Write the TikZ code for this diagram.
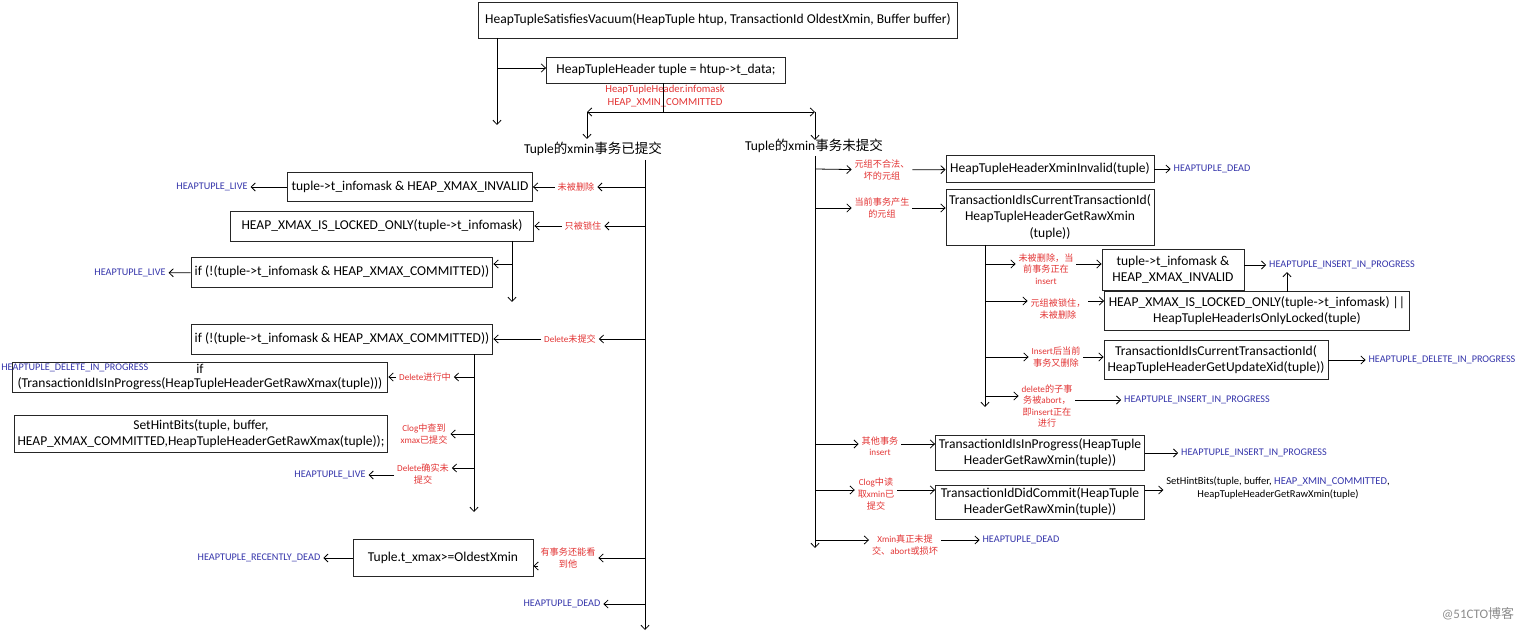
\documentclass[tikz,border=0pt]{standalone}
\usepackage{fontspec}
\setmainfont{Carlito}
\newfontfamily\cjk{Noto Sans CJK SC}
\newcommand{\hanzi}[1]{{\cjk #1}}
\usetikzlibrary{arrows.meta}
\definecolor{condred}{RGB}{226,52,52}
\definecolor{resblue}{RGB}{52,52,170}

\begin{document}
\begin{tikzpicture}[x=0.02cm,y=-0.02cm,>={Straight Barb[length=2.4pt,width=4.6pt]},line width=0.45pt,
  box/.style={draw=black!85,line width=0.55pt,align=center,inner sep=1pt,font=\fontsize{7.7}{9.2}\selectfont},
  plain/.style={inner sep=1pt,font=\fontsize{7.7}{9}\selectfont},
  cond/.style={text=condred,align=center,inner sep=1.5pt,font=\fontsize{5.2}{6.6}\selectfont},
  result/.style={text=resblue,inner sep=1.5pt,font=\fontsize{5.8}{7}\selectfont}]
  \useasboundingbox (0,0) rectangle (1520,631);

  \node[box, minimum width=9.6cm, minimum height=0.72cm] (vacuum) at (718,20) {HeapTupleSatisfiesVacuum(HeapTuple htup, TransactionId OldestXmin, Buffer buffer)};
  \node[box, minimum width=4.78cm, minimum height=0.52cm] (tupleheader) at (666,70) {HeapTupleHeader tuple = htup->t\_data;};
  \node[cond, font=\fontsize{6.1}{7.4}\selectfont] (infomask) at (665,96) {HeapTupleHeader.infomask\\HEAP\_XMIN\_COMMITTED};
  \node[plain] (xmincommitted)   at (593,149) {Tuple\hanzi{的}xmin\hanzi{事务已提交}};
  \node[plain] (xminuncommitted) at (814,146) {Tuple\hanzi{的}xmin\hanzi{事务未提交}};

  \coordinate (trunk)    at (497,38);
  \coordinate (trunkhdr) at (497,68);
  \coordinate (trunkend) at (497,125);
  \coordinate (hdrout)   at (663,83);
  \coordinate (fork)     at (663,112);
  \coordinate (lfork)    at (587,112);
  \coordinate (rfork)    at (815,112);
  \coordinate (lhead)    at (587,139);
  \coordinate (rhead)    at (815,140);

  \path[->]
  (trunk) edge (trunkend)
  (trunkhdr) edge (trunkhdr -| tupleheader.west)
  (lfork) edge (lhead)
  (rfork) edge (rhead);
  \draw (hdrout) -- (fork);
  \draw[<->] (lfork) -- (rfork);

  % xmin committed
  \node[box, minimum width=4.9cm, minimum height=0.58cm]  (xmaxinvalid) at (410,187) {tuple->t\_infomask \& HEAP\_XMAX\_INVALID};
  \node[cond] (notdeleted) at (576,187) {\hanzi{未被删除}};
  \node[result] (liveA) at (212,187) {HEAPTUPLE\_LIVE};
  \node[box, minimum width=6.08cm, minimum height=0.6cm] (lockedonly) at (382,226) {HEAP\_XMAX\_IS\_LOCKED\_ONLY(tuple->t\_infomask)};
  \node[cond] (onlylocked) at (583,226) {\hanzi{只被锁住}};
  \node[box, minimum width=6.04cm, minimum height=0.6cm] (xmaxcommitA) at (342,272) {if (!(tuple->t\_infomask \& HEAP\_XMAX\_COMMITTED))};
  \node[result] (liveB) at (130,273) {HEAPTUPLE\_LIVE};
  \node[box, minimum width=6.04cm, minimum height=0.6cm] (xmaxcommitB) at (342,339) {if (!(tuple->t\_infomask \& HEAP\_XMAX\_COMMITTED))};
  \node[cond] (delnotcommit) at (570,339) {Delete\hanzi{未提交}};
  \node[box, minimum width=7.52cm, minimum height=0.6cm, font=\fontsize{7.7}{8}\selectfont] (inprogressxmax) at (200,377) {if\\(TransactionIdIsInProgress(HeapTupleHeaderGetRawXmax(tuple)))};
  \node[result, anchor=west, inner sep=0pt] (delprogA) at (1,368) {HEAPTUPLE\_DELETE\_IN\_PROGRESS};
  \node[cond] (deleting) at (425,377) {Delete\hanzi{进行中}};
  \node[box, minimum width=7.48cm, minimum height=0.74cm] (sethintA) at (201,434) {SetHintBits(tuple, buffer,\\HEAP\_XMAX\_COMMITTED,HeapTupleHeaderGetRawXmax(tuple));};
  \node[cond] (clogfound) at (424,434) {Clog\hanzi{中查到}\\xmax\hanzi{已提交}};
  \node[cond] (deltrue) at (423,474) {Delete\hanzi{确实未}\\\hanzi{提交}};
  \node[result] (liveC) at (330,475) {HEAPTUPLE\_LIVE};
  \node[box, minimum width=3.6cm, minimum height=0.74cm] (recentdead) at (443,558) {Tuple.t\_xmax>=OldestXmin};
  \node[cond] (visible) at (568,558) {\hanzi{有事务还能看}\\\hanzi{到他}};
  \node[result] (recentlydead) at (259,558) {HEAPTUPLE\_RECENTLY\_DEAD};
  \node[result] (deadA) at (562,604) {HEAPTUPLE\_DEAD};

  \coordinate (ltop) at (645,160);
  \coordinate (lend) at (645,630);
  \coordinate (l1) at (645,187);
  \coordinate (l2) at (645,226);
  \coordinate (l3) at (645,339);
  \coordinate (l4) at (645,558);
  \coordinate (l5) at (645,604);
  \coordinate (k0) at (512,241);
  \coordinate (k1) at (512,264);
  \coordinate (kend) at (512,302);
  \coordinate (m0) at (474,354);
  \coordinate (m1) at (474,377);
  \coordinate (m2) at (474,434);
  \coordinate (m3) at (474,468);
  \coordinate (mend) at (474,512);

  \path[->]
  (ltop) edge (lend)
  (l1) edge (notdeleted)
  (notdeleted) edge (xmaxinvalid)
  (xmaxinvalid) edge (liveA)
  (l2) edge (onlylocked)
  (onlylocked) edge (lockedonly)
  (k0) edge (kend)
  (k1) edge (k1 -| xmaxcommitA.east)
  (xmaxcommitA) edge (liveB)
  (l3) edge (delnotcommit)
  (delnotcommit) edge (xmaxcommitB)
  (m0) edge (mend)
  (m1) edge (deleting)
  (deleting) edge (inprogressxmax)
  (m2) edge (clogfound)
  (m3) edge (m3 -| deltrue.east)
  (deltrue.west |- liveC) edge (liveC)
  (l4) edge (visible)
  (visible.west |- 0,566) edge (recentdead.east |- 0,566)
  (recentdead) edge (recentlydead)
  (l5) edge (deadA);

  % xmin not committed
  \node[cond] (badtuple) at (882,170) {\hanzi{元组不合法、}\\\hanzi{坏的元组}};
  \node[box, minimum width=4.16cm, minimum height=0.54cm] (xmininvalid) at (1050,169) {HeapTupleHeaderXminInvalid(tuple)};
  \node[result] (deadB) at (1212,169) {HEAPTUPLE\_DEAD};
  \node[cond] (owntuple) at (882,208) {\hanzi{当前事务产生}\\\hanzi{的元组}};
  \node[box, minimum width=4.16cm, minimum height=1.12cm] (curxact) at (1050,217) {TransactionIdIsCurrentTransactionId(\\HeapTupleHeaderGetRawXmin\\(tuple))};
  \node[cond] (curinsert) at (1046,269) {\hanzi{未被删除，当}\\\hanzi{前事务正在}\\insert};
  \node[box, minimum width=2.84cm, minimum height=0.82cm] (xmaxinvalidB) at (1173,270) {tuple->t\_infomask \&\\HEAP\_XMAX\_INVALID};
  \node[result] (insprogA) at (1342,265) {HEAPTUPLE\_INSERT\_IN\_PROGRESS};
  \node[cond] (lockednotdel) at (1058,309) {\hanzi{元组被锁住，}\\\hanzi{未被删除}};
  \node[box, minimum width=6.1cm, minimum height=0.78cm] (lockedonlyB) at (1257,311) {HEAP\_XMAX\_IS\_LOCKED\_ONLY(tuple->t\_infomask) ||\\HeapTupleHeaderIsOnlyLocked(tuple)};
  \node[cond] (insdel) at (1056,357) {Insert\hanzi{后当前}\\\hanzi{事务又删除}};
  \node[box, minimum width=4.48cm, minimum height=0.78cm] (curupdate) at (1216,360) {TransactionIdIsCurrentTransactionId(\\HeapTupleHeaderGetUpdateXid(tuple))};
  \node[result] (delprogB) at (1442,360) {HEAPTUPLE\_DELETE\_IN\_PROGRESS};
  \node[cond] (subabort) at (1047,406) {delete\hanzi{的子事}\\\hanzi{务被}abort\hanzi{，}\\\hanzi{即}insert\hanzi{正在}\\\hanzi{进行}};
  \node[result] (insprogB) at (1197,400) {HEAPTUPLE\_INSERT\_IN\_PROGRESS};
  \node[cond] (otherins) at (880,446) {\hanzi{其他事务}\\insert};
  \node[box, minimum width=4.18cm, minimum height=0.7cm] (inprogressxmin) at (1040,453) {TransactionIdIsInProgress(HeapTuple\\HeaderGetRawXmin(tuple))};
  \node[result] (insprogC) at (1254,453) {HEAPTUPLE\_INSERT\_IN\_PROGRESS};
  \node[cond] (clogread) at (876,494) {Clog\hanzi{中读}\\\hanzi{取}xmin\hanzi{已}\\\hanzi{提交}};
  \node[box, minimum width=4.18cm, minimum height=0.68cm] (didcommit) at (1040,502) {TransactionIdDidCommit(HeapTuple\\HeaderGetRawXmin(tuple))};
  \node[inner sep=1.5pt, align=center, font=\fontsize{6}{7.2}\selectfont] (sethintB) at (1278,488) {SetHintBits(tuple, buffer, \textcolor{resblue}{HEAP\_XMIN\_COMMITTED},\\HeapTupleHeaderGetRawXmin(tuple)};
  \node[cond] (xminabort) at (905,545) {Xmin\hanzi{真正未提}\\\hanzi{交、}abort\hanzi{或损坏}};
  \node[result] (deadC) at (1021,540) {HEAPTUPLE\_DEAD};

  \coordinate (rtop) at (815,156);
  \coordinate (rend) at (815,548);
  \coordinate (r1) at (815,169);
  \coordinate (r2) at (815,208);
  \coordinate (r3) at (815,444);
  \coordinate (r4) at (815,490);
  \coordinate (r5) at (815,540);
  \coordinate (s0) at (985,245);
  \coordinate (s1) at (985,264);
  \coordinate (s2) at (985,301);
  \coordinate (s3) at (985,357);
  \coordinate (s4) at (985,396);
  \coordinate (send) at (985,407);
  \coordinate (lockup) at (1287,292);

  \path[->]
  (rtop) edge (rend)
  (r1) edge (badtuple)
  (badtuple) edge (xmininvalid)
  (xmininvalid) edge (deadB)
  (r2) edge (owntuple)
  (owntuple) edge (owntuple -| curxact.west)
  (s0) edge (send)
  (s1) edge (s1 -| curinsert.west)
  (curinsert.east |- s1) edge (s1 -| xmaxinvalidB.west)
  (xmaxinvalidB.east |- insprogA) edge (insprogA)
  (s2) edge (s2 -| lockednotdel.west)
  (lockednotdel.east |- s2) edge (s2 -| lockedonlyB.west)
  (lockup) edge (lockup |- insprogA.south)
  (s3) edge (insdel)
  (insdel) edge (insdel -| curupdate.west)
  (curupdate.east |- delprogB) edge (delprogB)
  (s4) edge (s4 -| subabort.west)
  (subabort.east |- insprogB) edge (insprogB)
  (r3) edge (r3 -| otherins.west)
  (otherins.east |- r3) edge (r3 -| inprogressxmin.west)
  (inprogressxmin.east |- insprogC) edge (insprogC)
  (r4) edge (r4 -| clogread.west)
  (clogread.east |- r4) edge (r4 -| didcommit.west)
  (didcommit.east |- r4) edge (r4 -| sethintB.west)
  (r5) edge (r5 -| xminabort.west)
  (xminabort.east |- r5) edge (deadC);

  \node[text=black!45, inner sep=0pt, font=\fontsize{7.4}{8}\selectfont] (watermark) at (1478,614) {@51CTO\hanzi{博客}};
\end{tikzpicture}
\end{document}
